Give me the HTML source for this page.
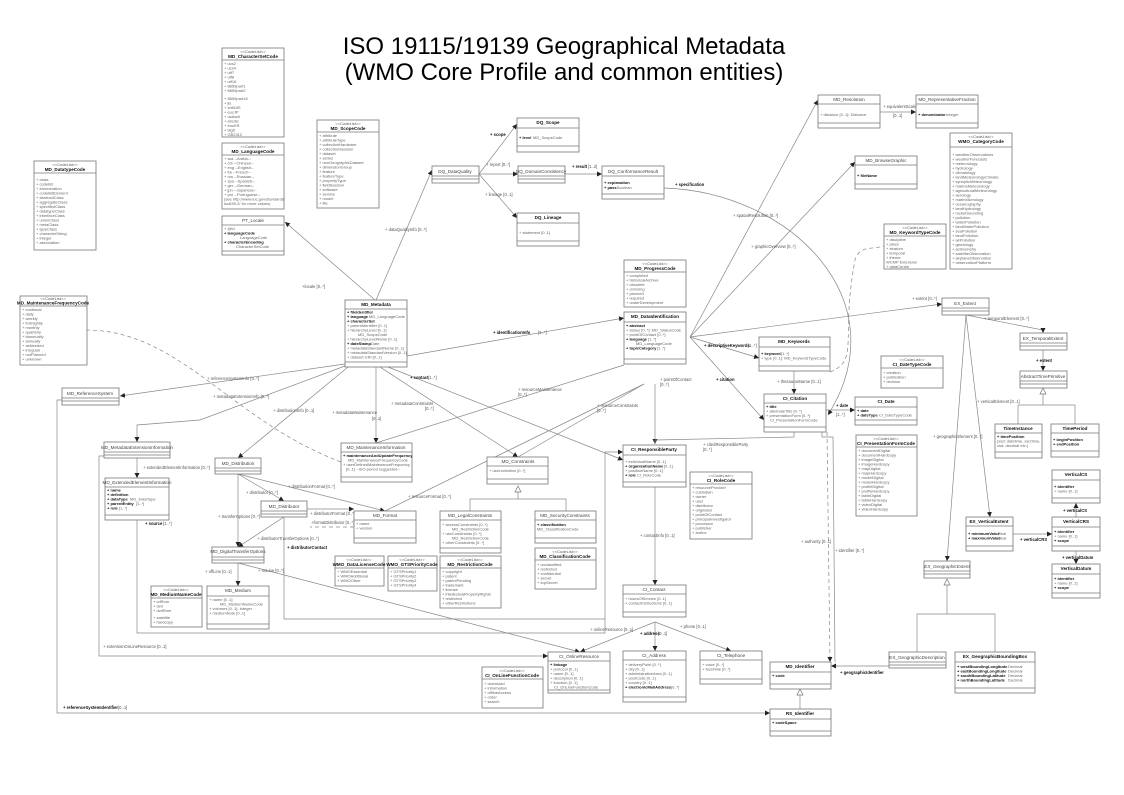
<!DOCTYPE html>
<html><head><meta charset="utf-8"><style>
html,body{margin:0;padding:0;background:#fff;}
svg{display:block;font-family:"Liberation Sans",sans-serif;}
.b rect{fill:#fff;stroke:#777;stroke-width:0.8}
.b line{stroke:#777;stroke-width:0.7}
.n{font-size:4.6px;text-anchor:middle;fill:#444}
.nb{font-size:4.6px;text-anchor:middle;font-weight:bold;fill:#111}
.s{font-size:4px;text-anchor:middle;fill:#555}
.a{font-size:4px;fill:#666}
.ab{font-size:4px;fill:#111;font-weight:bold}
.c{stroke:#888;stroke-width:0.7;fill:none}
.d{stroke:#888;stroke-width:0.7;fill:none;stroke-dasharray:4 3}
.l{font-size:4.2px;fill:#555}
.lb{font-size:4.2px;fill:#111;font-weight:bold}
</style></head><body>
<svg width="1124" height="795" viewBox="0 0 1124 795" xmlns="http://www.w3.org/2000/svg">
<defs>
<marker id="ar" markerWidth="6" markerHeight="6" refX="5" refY="3" orient="auto" markerUnits="userSpaceOnUse"><path d="M0,0.5 L5,3 L0,5.5 z" fill="#222"/></marker>
</defs>
<text x="564" y="54" font-size="24" text-anchor="middle" fill="#000">ISO 19115/19139 Geographical Metadata</text>
<text x="564" y="80" font-size="24" text-anchor="middle" fill="#000">(WMO Core Profile and common entities)</text>

<!-- CONNECTORS -->
<g>
<path class="c" d="M375,300 L285,222" marker-end="url(#ar)"/><text class="l" x="302" y="288">+locale [0..*]</text>
<path class="c" d="M376,300 L432,170" marker-end="url(#ar)"/><text class="l" x="385" y="231">+ dataQualityInfo [0..*]</text>
<path class="c" d="M479,174 L517,124" marker-end="url(#ar)"/><text class="lb" x="490" y="136">+ scope</text>
<path class="c" d="M479,174 L518,174" marker-end="url(#ar)"/><text class="l" x="486" y="166">+ report [0..*]</text>
<path class="c" d="M479,174 L517,218" marker-end="url(#ar)"/><text class="l" x="485" y="196">+ lineage [0..1]</text>
<path class="c" d="M565,174 L602,174" marker-end="url(#ar)"/><text class="lb" x="572" y="168">+ result</text><text class="l" x="588" y="168">[1..2]</text>
<path class="c" d="M664,188 C790,192 900,300 828,415" marker-end="url(#ar)"/><text class="lb" x="675" y="186">+ specification</text>
<path class="c" d="M407,356 L624,318" marker-end="url(#ar)"/><text class="lb" x="493" y="334">+ identificationInfo</text><text class="l" x="538" y="334">[1..*]</text>
<path class="c" d="M345,364 L120,396" marker-end="url(#ar)"/><text class="l" x="207" y="380">+ referenceSystemInfo [0..*]</text>
<path class="c" d="M345,366 L200,420 L137,425 L137,442" marker-end="url(#ar)"/><text class="l" x="213" y="398">+ metadataExtensionInfo [0..*]</text>
<path class="c" d="M348,367 L238,458" marker-end="url(#ar)"/><text class="l" x="273" y="412">+ distributionInfo [0..1]</text>
<path class="c" d="M376,367 L376,443" marker-end="url(#ar)"/><text class="l" x="332" y="414">+ metadataMaintenance</text><text class="l" x="372" y="420">[0..1]</text>
<path class="c" d="M380,367 L518,457" marker-end="url(#ar)"/><text class="l" x="391" y="405">+ metadataConstraints</text><text class="l" x="425" y="410">[0..*]</text>
<path class="c" d="M388,367 L623,460" marker-end="url(#ar)"/><text class="lb" x="410" y="379">+ contact</text><text class="l" x="428" y="379">[1..*]</text>
<path class="c" d="M624,365 L376,443"/><text class="l" x="518" y="391">+ resourceMaintenance</text><text class="l" x="518" y="396">[0..*]</text>
<path class="c" d="M644,384 L518,457"/><text class="l" x="597" y="407">+ resourceConstraints</text><text class="l" x="597" y="412">[0..*]</text>
<path class="c" d="M644,384 L385,511"/><text class="l" x="408" y="498">+ resourceFormat [0..*]</text>
<path class="c" d="M655,384 L655,444" marker-end="url(#ar)"/><text class="l" x="660" y="381">+ pointOfContact</text><text class="l" x="660" y="386">[0..*]</text>
<path class="c" d="M690,337 L818,100" marker-end="url(#ar)"/><text class="l" x="733" y="217">+ spatialResolution [0..*]</text>
<path class="c" d="M690,337 L855,162" marker-end="url(#ar)"/><text class="l" x="751" y="248">+ graphicOverview [0..*]</text>
<path class="c" d="M690,337 L942,304" marker-end="url(#ar)"/><text class="l" x="912" y="300">+ extent [0..*]</text>
<path class="c" d="M690,337 L759,358" marker-end="url(#ar)"/><text class="lb" x="704" y="347">+ descriptiveKeywords</text><text class="l" x="748" y="347">[1..*]</text>
<path class="c" d="M690,337 L764,420" marker-end="url(#ar)"/><text class="lb" x="716" y="381">+ citation</text>
<path class="c" d="M794,371 L794,394" marker-end="url(#ar)"/><text class="l" x="777" y="383">+ thesaurusName [0..1]</text>
<path class="d" d="M830,372 C860,360 840,340 855,260 C860,245 870,250 884,246"/>
<path class="c" d="M880,112 L916,112" marker-end="url(#ar)"/><text class="l" x="883" y="108">+ equivalentScale</text><text class="l" x="893" y="117">[0..1]</text>
<path class="c" d="M826,410 L855,410" marker-end="url(#ar)"/><text class="lb" x="836" y="407">+ date</text><text class="l" x="836" y="416">[1..*]</text>
<path class="c" d="M794,432 L794,437 L655,440 L655,444"/><text class="l" x="703" y="446">+ citedResponsibleParty</text><text class="l" x="703" y="451">[0..*]</text>
<path class="c" d="M655,487 L655,585" marker-end="url(#ar)"/><text class="l" x="640" y="537">+ contactInfo [0..1]</text>
<path class="c" d="M655,622 L655,651" marker-end="url(#ar)"/><text class="lb" x="640" y="635">+ address</text><text class="l" x="658" y="635">[0..1]</text>
<path class="c" d="M655,622 L731,651" marker-end="url(#ar)"/><text class="l" x="680" y="628">+ phone [0..1]</text>
<path class="c" d="M655,622 L580,652" marker-end="url(#ar)"/><text class="l" x="590" y="631">+ onlineResource [0..1]</text>
<path class="d" d="M827,432 L830,662" marker-end="url(#ar)"/><text class="l" x="801" y="543">+ authority [0..1]</text>
<path class="c" d="M822,432 L822,437 L833,437 L835,662"/><text class="l" x="835" y="552">+ identifier [0..*]</text>
<path class="c" d="M889,666 L831,666" marker-end="url(#ar)"/><text class="lb" x="840" y="674">+ geographicIdentifier</text>
<path class="c" d="M800,709 L800,693"/><path d="M800,689 L797,695 L803,695 z" fill="#fff" stroke="#777" stroke-width="0.7"/>
<path class="c" d="M966,315 L1043,330 L1043,333" marker-end="url(#ar)"/><text class="l" x="984" y="320">+ temporalElement [0..*]</text>
<path class="c" d="M1043,350 L1043,371" marker-end="url(#ar)"/><text class="lb" x="1036" y="362">+ extent</text>
<path class="c" d="M1043,392 L1043,405 L1018,405 L1018,424 M1043,405 L1075,405 L1075,424"/><path d="M1043,388 L1040,394 L1046,394 z" fill="#fff" stroke="#777" stroke-width="0.7"/>
<path class="c" d="M966,315 L990,517" marker-end="url(#ar)"/><text class="l" x="977" y="403">+ verticalElement [0..1]</text>
<path class="c" d="M966,315 L947,561" marker-end="url(#ar)"/><text class="l" x="933" y="438">+ geographicElement [0..*]</text>
<path class="c" d="M1013,534 L1052,534" marker-end="url(#ar)"/><text class="lb" x="1020" y="541">+ verticalCRS</text>
<path class="c" d="M1076,517 L1076,503" marker-end="url(#ar)"/><text class="lb" x="1063" y="512">+ verticalCS</text>
<path class="c" d="M1076,551 L1076,564" marker-end="url(#ar)"/><text class="lb" x="1062" y="559">+ verticalDatum</text>
<path class="c" d="M947,583 L947,614 L917,614 L917,652 M947,614 L995,614 L995,652"/><path d="M947,579 L944,585 L950,585 z" fill="#fff" stroke="#777" stroke-width="0.7"/>
<path class="c" d="M238,474 L238,547" marker-end="url(#ar)"/><text class="l" x="218" y="518">+ transferOptions [0..*]</text>
<path class="c" d="M238,474 L284,501" marker-end="url(#ar)"/><text class="l" x="246" y="494">+ distributor [0..*]</text>
<path class="c" d="M238,474 L385,511" marker-end="url(#ar)"/><text class="l" x="288" y="488">+ distributionFormat [0..*]</text>
<path class="c" d="M307,509 L354,509" marker-end="url(#ar)"/><text class="l" x="310" y="515">+ distributorFormat [0..*]</text>
<path class="d" d="M354,527 L310,527"/><text class="l" x="311" y="524">+formatDistributor [0..*]</text>
<path class="c" d="M284,517 L238,547" marker-end="url(#ar)"/><text class="l" x="257" y="540">+ distributorTransferOptions [0..*]</text>
<path class="c" d="M284,517 L284,619 L605,619"/><text class="lb" x="287" y="549">+ distributorContact</text>
<path class="c" d="M238,563 L238,586" marker-end="url(#ar)"/><text class="l" x="205" y="573">+ offLine [0..1]</text>
<path class="c" d="M238,563 L580,652" marker-end="url(#ar)"/><text class="l" x="258" y="572">+ onLine [0..*]</text>
<path class="c" d="M137,520 L137,633 L605,633 L605,452 L623,452" marker-end="url(#ar)"/><text class="lb" x="145" y="525">+ source</text><text class="l" x="163" y="525">[1..*]</text>
<path class="c" d="M137,458 L137,478" marker-end="url(#ar)"/><text class="l" x="143" y="469">+ extendedElementInformation [0..*]</text>
<path class="c" d="M104,456 L99,456 L99,656 L548,656" marker-end="url(#ar)"/><text class="l" x="103" y="648">+ extensionOnLineResource [0..1]</text>
<path class="c" d="M62,400 L57,400 L57,713 L770,713" marker-end="url(#ar)"/><text class="lb" x="63" y="709">+ referenceSystemIdentifier</text><text class="l" x="118" y="709">[0..1]</text>
<path class="c" d="M470,511 L470,499 L518,499 L566,499 L566,511 M518,499 L518,490"/><path d="M518,486 L515,492 L521,492 z" fill="#fff" stroke="#777" stroke-width="0.7"/>
<path class="d" d="M86,330 C180,330 230,420 341,462"/>
</g>

<!-- BOXES -->
<g class="b">
<rect x="222" y="48" width="62" height="89"/><text class="s" x="253" y="53">&lt;&lt;CodeList&gt;&gt;</text><text class="nb" x="253" y="58">MD_CharacterSetCode</text><line x1="222" y1="60" x2="284" y2="60"/>
<text class="a" x="224" y="65">+ ucs2</text><text class="a" x="224" y="69.5">+ ucs4</text><text class="a" x="224" y="74">+ utf7</text><text class="a" x="224" y="78.5">+ utf8</text><text class="a" x="224" y="83">+ utf16</text><text class="a" x="224" y="87.5">+ 8859part1</text><text class="a" x="224" y="92">+ 8859part2</text><text class="a" x="224" y="100">+ 8859part16</text><text class="a" x="224" y="104.5">+ jis</text><text class="a" x="224" y="109">+ shiftJIS</text><text class="a" x="224" y="113.5">+ eucJP</text><text class="a" x="224" y="118">+ usAscii</text><text class="a" x="224" y="122.5">+ ebcdic</text><text class="a" x="224" y="127">+ eucKR</text><text class="a" x="224" y="131.5">+ big5</text><text class="a" x="224" y="136">+ GB2312</text>

<rect x="222" y="143" width="62" height="66"/><text class="s" x="253" y="148">&lt;&lt;CodeList&gt;&gt;</text><text class="nb" x="253" y="153">MD_LanguageCode</text><line x1="222" y1="155" x2="284" y2="155"/>
<text class="a" x="224" y="160">+ ara --Arabic--</text><text class="a" x="224" y="164.5">+ chi --Chinese--</text><text class="a" x="224" y="169">+ eng --English--</text><text class="a" x="224" y="173.5">+ fre --French--</text><text class="a" x="224" y="178">+ rus --Russian--</text><text class="a" x="224" y="182.5">+ spa --Spanish--</text><text class="a" x="224" y="187">+ ger --German--</text><text class="a" x="224" y="191.5">+ jpn --Japanese--</text><text class="a" x="224" y="196">+ por --Portuguese--</text><text class="a" x="224" y="200.5">(see http://www.loc.gov/standards/</text><text class="a" x="224" y="205">iso639-2/ for more values)</text>

<rect x="222" y="216" width="62" height="39"/><text class="n" x="253" y="222">PT_Locale</text><line x1="222" y1="225" x2="284" y2="225"/>
<text class="a" x="224" y="230">+ @id</text><text class="ab" x="224" y="234.5">+ languageCode</text><text class="a" x="240" y="239">LanguageCode</text><text class="ab" x="224" y="243.5">+ characterEncoding</text><text class="a" x="236" y="248">CharacterSetCode</text><line x1="222" y1="251" x2="284" y2="251"/>

<rect x="317" y="120" width="62" height="88"/><text class="s" x="348" y="125">&lt;&lt;CodeList&gt;&gt;</text><text class="nb" x="348" y="130">MD_ScopeCode</text><line x1="317" y1="132" x2="379" y2="132"/>
<text class="a" x="319" y="137">+ attribute</text><text class="a" x="319" y="141.5">+ attributeType</text><text class="a" x="319" y="146">+ collectionHardware</text><text class="a" x="319" y="150.5">+ collectionSession</text><text class="a" x="319" y="155">+ dataset</text><text class="a" x="319" y="159.5">+ series</text><text class="a" x="319" y="164">+ nonGeographicDataset</text><text class="a" x="319" y="168.5">+ dimensionGroup</text><text class="a" x="319" y="173">+ feature</text><text class="a" x="319" y="177.5">+ featureType</text><text class="a" x="319" y="182">+ propertyType</text><text class="a" x="319" y="186.5">+ fieldSession</text><text class="a" x="319" y="191">+ software</text><text class="a" x="319" y="195.5">+ service</text><text class="a" x="319" y="200">+ model</text><text class="a" x="319" y="204.5">+ tile</text>

<rect x="34" y="161" width="62" height="89"/><text class="s" x="65" y="166">&lt;&lt;CodeList&gt;&gt;</text><text class="nb" x="65" y="171">MD_DatatypeCode</text><line x1="34" y1="173" x2="96" y2="173"/>
<text class="a" x="36" y="181">+ class</text><text class="a" x="36" y="185.5">+ codelist</text><text class="a" x="36" y="190">+ enumeration</text><text class="a" x="36" y="194.5">+ codelistElement</text><text class="a" x="36" y="199">+ abstractClass</text><text class="a" x="36" y="203.5">+ aggregateClass</text><text class="a" x="36" y="208">+ specifiedClass</text><text class="a" x="36" y="212.5">+ datatypeClass</text><text class="a" x="36" y="217">+ interfaceClass</text><text class="a" x="36" y="221.5">+ unionClass</text><text class="a" x="36" y="226">+ metaClass</text><text class="a" x="36" y="230.5">+ typeClass</text><text class="a" x="36" y="235">+ characterString</text><text class="a" x="36" y="239.5">+ integer</text><text class="a" x="36" y="244">+ association</text>

<rect x="20" y="296" width="67" height="69"/><text class="s" x="53" y="300">&lt;&lt;CodeList&gt;&gt;</text><text class="nb" x="53" y="304.5">MD_MaintenanceFrequencyCode</text><line x1="20" y1="306" x2="87" y2="306"/>
<text class="a" x="22" y="311">+ continual</text><text class="a" x="22" y="315.5">+ daily</text><text class="a" x="22" y="320">+ weekly</text><text class="a" x="22" y="324.5">+ fortnightly</text><text class="a" x="22" y="329">+ monthly</text><text class="a" x="22" y="333.5">+ quarterly</text><text class="a" x="22" y="338">+ biannually</text><text class="a" x="22" y="342.5">+ annually</text><text class="a" x="22" y="347">+ asNeeded</text><text class="a" x="22" y="351.5">+ irregular</text><text class="a" x="22" y="356">+ notPlanned</text><text class="a" x="22" y="360.5">+ unknown</text>

<rect x="62" y="388" width="57" height="17"/><text class="n" x="90" y="395">MD_ReferenceSystem</text><line x1="62" y1="398" x2="119" y2="398"/><line x1="62" y1="401" x2="119" y2="401"/>

<rect x="345" y="300" width="62" height="67"/><text class="nb" x="376" y="306">MD_Metadata</text><line x1="345" y1="309" x2="407" y2="309"/>
<text class="ab" x="347" y="313.5">+ fileIdentifier</text><text class="ab" x="347" y="318">+ language</text><text class="a" x="369" y="318">MD_LanguageCode</text><text class="ab" x="347" y="322.5">+ characterSet</text><text class="a" x="347" y="327">+ parentIdentifier [0..1]</text><text class="a" x="347" y="331.5">+ hierarchyLevel [0..1]</text><text class="a" x="358" y="336">MD_ScopeCode</text><text class="a" x="347" y="340.5">+ hierarchyLevelName [0..1]</text><text class="ab" x="347" y="345">+ dateStamp</text><text class="a" x="371" y="345">Date</text><text class="a" x="347" y="349.5">+ metadataStandardName [0..1]</text><text class="a" x="347" y="354">+ metadataStandardVersion [0..1]</text><text class="a" x="347" y="358.5">+ dataset URI [0..1]</text><line x1="345" y1="362" x2="407" y2="362"/>

<rect x="432" y="166" width="47" height="17"/><text class="n" x="455" y="173">DQ_DataQuality</text><line x1="432" y1="176" x2="479" y2="176"/><line x1="432" y1="179" x2="479" y2="179"/>
<rect x="517" y="118" width="62" height="34"/><text class="nb" x="548" y="124">DQ_Scope</text><line x1="517" y1="128" x2="579" y2="128"/><text class="ab" x="519" y="139">+ level</text><text class="a" x="533" y="139">MD_ScopeCode</text><line x1="517" y1="146" x2="579" y2="146"/>
<rect x="518" y="166" width="47" height="17"/><text class="n" x="541" y="173">DQ_DomainConsistency</text><line x1="518" y1="176" x2="565" y2="176"/><line x1="518" y1="179" x2="565" y2="179"/>
<rect x="602" y="166" width="62" height="33"/><text class="n" x="633" y="173">DQ_ConformanceResult</text><line x1="602" y1="176" x2="664" y2="176"/><text class="ab" x="604" y="184">+ explanation</text><text class="ab" x="604" y="189">+ pass</text><text class="a" x="617" y="189">Boolean</text><line x1="602" y1="194" x2="664" y2="194"/>
<rect x="517" y="213" width="62" height="33"/><text class="nb" x="548" y="219">DQ_Lineage</text><line x1="517" y1="223" x2="579" y2="223"/><text class="a" x="519" y="234">+ statement [0..1]</text><line x1="517" y1="241" x2="579" y2="241"/>

<rect x="818" y="95" width="62" height="33"/><text class="n" x="849" y="101">MD_Resolution</text><line x1="818" y1="104" x2="880" y2="104"/><text class="a" x="820" y="116">+ distance [0..1]: Distance</text><line x1="818" y1="123" x2="880" y2="123"/>
<rect x="916" y="95" width="62" height="33"/><text class="n" x="947" y="101">MD_RepresentativeFraction</text><line x1="916" y1="104" x2="978" y2="104"/><text class="ab" x="918" y="116">+ denominator</text><text class="a" x="946" y="116">Integer</text><line x1="916" y1="123" x2="978" y2="123"/>

<rect x="950" y="133" width="62" height="136"/><text class="s" x="981" y="138">&lt;&lt;CodeList&gt;&gt;</text><text class="nb" x="981" y="143">WMO_CategoryCode</text><line x1="950" y1="147" x2="1012" y2="147"/>
<text class="a" x="952" y="156">+ weatherObservations</text><text class="a" x="952" y="160.5">+ weatherForecasts</text><text class="a" x="952" y="165">+ meteorology</text><text class="a" x="952" y="169.5">+ hydrology</text><text class="a" x="952" y="174">+ climatology</text><text class="a" x="952" y="178.5">+ landMeteorologyClimate</text><text class="a" x="952" y="183">+ synopticMeteorology</text><text class="a" x="952" y="187.5">+ marineMeteorology</text><text class="a" x="952" y="192">+ agriculturalMeteorology</text><text class="a" x="952" y="196.5">+ aerology</text><text class="a" x="952" y="201">+ marineAerology</text><text class="a" x="952" y="205.5">+ oceanography</text><text class="a" x="952" y="210">+ landHydrology</text><text class="a" x="952" y="214.5">+ rocketSounding</text><text class="a" x="952" y="219">+ pollution</text><text class="a" x="952" y="223.5">+ waterPollution</text><text class="a" x="952" y="228">+ landWaterPollution</text><text class="a" x="952" y="232.5">+ seaPollution</text><text class="a" x="952" y="237">+ landPollution</text><text class="a" x="952" y="241.5">+ airPollution</text><text class="a" x="952" y="246">+ glaciology</text><text class="a" x="952" y="250.5">+ actinometry</text><text class="a" x="952" y="255">+ satelliteObservation</text><text class="a" x="952" y="259.5">+ airplaneObservation</text><text class="a" x="952" y="264">+ observationPlatform</text>

<rect x="855" y="156" width="62" height="33"/><text class="n" x="886" y="162">MD_BrowseGraphic</text><line x1="855" y1="165" x2="917" y2="165"/><text class="ab" x="857" y="177">+ fileName</text><line x1="855" y1="184" x2="917" y2="184"/>

<rect x="884" y="224" width="62" height="45"/><text class="s" x="915" y="229">&lt;&lt;CodeList&gt;&gt;</text><text class="nb" x="915" y="234">MD_KeywordTypeCode</text><line x1="884" y1="236" x2="946" y2="236"/>
<text class="a" x="886" y="241">+ discipline</text><text class="a" x="886" y="245.5">+ place</text><text class="a" x="886" y="250">+ stratum</text><text class="a" x="886" y="254.5">+ temporal</text><text class="a" x="886" y="259">+ theme</text><text class="a" x="886" y="263.5">WCMP Extension</text><text class="a" x="886" y="268">+ dataCentre</text>

<rect x="624" y="260" width="62" height="47"/><text class="s" x="655" y="265">&lt;&lt;CodeList&gt;&gt;</text><text class="nb" x="655" y="270">MD_ProgressCode</text><line x1="624" y1="272" x2="686" y2="272"/>
<text class="a" x="626" y="277">+ completed</text><text class="a" x="626" y="281.5">+ historicalArchive</text><text class="a" x="626" y="286">+ obsolete</text><text class="a" x="626" y="290.5">+ onGoing</text><text class="a" x="626" y="295">+ planned</text><text class="a" x="626" y="299.5">+ required</text><text class="a" x="626" y="304">+ underDevelopment</text>

<rect x="624" y="312" width="62" height="52"/><text class="nb" x="655" y="318">MD_DataIdentification</text><line x1="624" y1="322" x2="686" y2="322"/>
<text class="ab" x="626" y="327">+ abstract</text><text class="a" x="626" y="331.5">+ status [0..*]: MD_StatusCode</text><text class="a" x="626" y="336">+ pointOfContact [0..*]</text><text class="ab" x="626" y="340.5">+ language</text><text class="a" x="648" y="340.5">[1..*]</text><text class="a" x="636" y="345">MD_LanguageCode</text><text class="ab" x="626" y="349.5">+ topicCategory</text><text class="a" x="657" y="349.5">[1..*]</text><line x1="624" y1="359" x2="686" y2="359"/>

<rect x="942" y="298" width="47" height="17"/><text class="n" x="965" y="305">EX_Extent</text><line x1="942" y1="308" x2="989" y2="308"/><line x1="942" y1="311" x2="989" y2="311"/>
<rect x="1020" y="333" width="47" height="17"/><text class="n" x="1043" y="340">EX_TemporalExtent</text><line x1="1020" y1="343" x2="1067" y2="343"/><line x1="1020" y1="346" x2="1067" y2="346"/>
<rect x="1020" y="371" width="47" height="17"/><text class="n" x="1043" y="378">AbstractTimePrimitive</text><line x1="1020" y1="381" x2="1067" y2="381"/><line x1="1020" y1="384" x2="1067" y2="384"/>
<rect x="995" y="424" width="47" height="34"/><text class="nb" x="1018" y="430">TimeInstance</text><line x1="995" y1="433" x2="1042" y2="433"/><text class="ab" x="997" y="438">+ timePosition</text><text class="a" x="997" y="442.5">(xsd: datetime, xsd:time,</text><text class="a" x="997" y="447">xsd: decimal etc.)</text><line x1="995" y1="452" x2="1042" y2="452"/>
<rect x="1051" y="424" width="48" height="33"/><text class="nb" x="1075" y="430">TimePeriod</text><line x1="1051" y1="433" x2="1099" y2="433"/><text class="ab" x="1053" y="441">+ beginPosition</text><text class="ab" x="1053" y="445.5">+ endPosition</text><line x1="1051" y1="451" x2="1099" y2="451"/>

<rect x="759" y="337" width="71" height="34"/><text class="nb" x="794" y="343">MD_Keywords</text><line x1="759" y1="347" x2="830" y2="347"/><text class="ab" x="761" y="355">+ keyword</text><text class="a" x="781" y="355">[1..*]</text><text class="a" x="761" y="359.5">+ type [0..1]: MD_KeywordTypeCode</text><line x1="759" y1="366" x2="830" y2="366"/>
<rect x="881" y="356" width="62" height="32"/><text class="s" x="912" y="361">&lt;&lt;CodeList&gt;&gt;</text><text class="nb" x="912" y="366">CI_DateTypeCode</text><line x1="881" y1="368" x2="943" y2="368"/><text class="a" x="883" y="374">+ creation</text><text class="a" x="883" y="378.5">+ publication</text><text class="a" x="883" y="383">+ revision</text>
<rect x="764" y="394" width="62" height="38"/><text class="nb" x="795" y="400">CI_Citation</text><line x1="764" y1="403" x2="826" y2="403"/><text class="ab" x="766" y="408">+ title</text><text class="a" x="766" y="412.5">+ alternateTitle [0..*]</text><text class="a" x="766" y="417">+ presentationForm [0..*]</text><text class="a" x="770" y="421.5">CI_PresentationFormCode</text><line x1="764" y1="427" x2="826" y2="427"/>
<rect x="855" y="397" width="62" height="28"/><text class="nb" x="886" y="403">CI_Date</text><line x1="855" y1="407" x2="917" y2="407"/><text class="ab" x="857" y="412">+ date</text><text class="ab" x="857" y="416.5">+ dateType</text><text class="a" x="879" y="416.5">CI_DateTypeCode</text><line x1="855" y1="420" x2="917" y2="420"/>
<rect x="856" y="435" width="61" height="81"/><text class="s" x="886" y="440">&lt;&lt;CodeList&gt;&gt;</text><text class="nb" x="886" y="445">CI_PresentationFormCode</text><line x1="856" y1="447" x2="917" y2="447"/>
<text class="a" x="858" y="452">+ documentDigital</text><text class="a" x="858" y="456.5">+ documentHardcopy</text><text class="a" x="858" y="461">+ imageDigital</text><text class="a" x="858" y="465.5">+ imageHardcopy</text><text class="a" x="858" y="470">+ mapDigital</text><text class="a" x="858" y="474.5">+ mapHardcopy</text><text class="a" x="858" y="479">+ modelDigital</text><text class="a" x="858" y="483.5">+ modelHardcopy</text><text class="a" x="858" y="488">+ profileDigital</text><text class="a" x="858" y="492.5">+ profileHardcopy</text><text class="a" x="858" y="497">+ tableDigital</text><text class="a" x="858" y="501.5">+ tableHardcopy</text><text class="a" x="858" y="506">+ videoDigital</text><text class="a" x="858" y="510.5">+ videoHardcopy</text>

<rect x="966" y="517" width="47" height="34"/><text class="nb" x="989" y="523">EX_VerticalExtent</text><line x1="966" y1="526" x2="1013" y2="526"/><text class="ab" x="968" y="535">+ minimumValue</text><text class="a" x="998" y="535">Real</text><text class="ab" x="968" y="539.5">+ maximumValue</text><text class="a" x="998" y="539.5">Real</text><line x1="966" y1="546" x2="1013" y2="546"/>
<rect x="1052" y="470" width="48" height="33"/><text class="nb" x="1076" y="476">VerticalCS</text><line x1="1052" y1="480" x2="1100" y2="480"/><text class="ab" x="1054" y="488">+ identifier</text><text class="a" x="1054" y="492.5">+ name [0..1]</text><line x1="1052" y1="498" x2="1100" y2="498"/>
<rect x="1052" y="517" width="48" height="34"/><text class="nb" x="1076" y="523">VerticalCRS</text><line x1="1052" y1="527" x2="1100" y2="527"/><text class="ab" x="1054" y="533">+ identifier</text><text class="a" x="1054" y="537.5">+ name [0..1]</text><text class="ab" x="1054" y="542">+ scope</text><line x1="1052" y1="546" x2="1100" y2="546"/>
<rect x="1052" y="564" width="48" height="34"/><text class="nb" x="1076" y="570">VerticalDatum</text><line x1="1052" y1="574" x2="1100" y2="574"/><text class="ab" x="1054" y="580">+ identifier</text><text class="a" x="1054" y="584.5">+ name [0..1]</text><text class="ab" x="1054" y="589">+ scope</text><line x1="1052" y1="593" x2="1100" y2="593"/>
<rect x="924" y="561" width="46" height="17"/><text class="n" x="947" y="568" font-style="italic">EX_GeographicExtent</text><line x1="924" y1="571" x2="970" y2="571"/><line x1="924" y1="574" x2="970" y2="574"/>
<rect x="889" y="652" width="57" height="16"/><text class="n" x="917" y="659">EX_GeographicDescription</text><line x1="889" y1="662" x2="946" y2="662"/><line x1="889" y1="665" x2="946" y2="665"/>
<rect x="955" y="652" width="80" height="41"/><text class="nb" x="995" y="658">EX_GeographicBoundingBox</text><line x1="955" y1="662" x2="1035" y2="662"/><text class="ab" x="957" y="668">+ westBoundingLongitude</text><text class="a" x="1008" y="668">Decimal</text><text class="ab" x="957" y="672.5">+ eastBoundingLongitude</text><text class="a" x="1008" y="672.5">Decimal</text><text class="ab" x="957" y="677">+ southBoundingLatitude</text><text class="a" x="1008" y="677">Decimal</text><text class="ab" x="957" y="681.5">+ northBoundingLatitude</text><text class="a" x="1008" y="681.5">Decimal</text><line x1="955" y1="688" x2="1035" y2="688"/>

<rect x="770" y="662" width="61" height="27"/><text class="nb" x="800" y="668">MD_Identifier</text><line x1="770" y1="672" x2="831" y2="672"/><text class="ab" x="772" y="677">+ code</text><line x1="770" y1="684" x2="831" y2="684"/>
<rect x="770" y="709" width="61" height="27"/><text class="nb" x="800" y="715">RS_Identifier</text><line x1="770" y1="719" x2="831" y2="719"/><text class="ab" x="772" y="724">+ codeSpace</text><line x1="770" y1="731" x2="831" y2="731"/>

<rect x="623" y="445" width="63" height="42"/><text class="nb" x="654" y="451">CI_ResponsibleParty</text><line x1="623" y1="455" x2="686" y2="455"/><text class="a" x="625" y="463">+ individualName [0..1]</text><text class="ab" x="625" y="467.5">+ organisationName</text><text class="a" x="664" y="467.5">[0..1]</text><text class="a" x="625" y="472">+ positionName [0..1]</text><text class="ab" x="625" y="476.5">+ role</text><text class="a" x="637" y="476.5">CI_RoleCode</text><line x1="623" y1="482" x2="686" y2="482"/>
<rect x="690" y="472" width="62" height="67"/><text class="s" x="721" y="477">&lt;&lt;CodeList&gt;&gt;</text><text class="nb" x="721" y="482">CI_RoleCode</text><line x1="690" y1="484" x2="752" y2="484"/>
<text class="a" x="692" y="489">+ resourceProvider</text><text class="a" x="692" y="493.5">+ custodian</text><text class="a" x="692" y="498">+ owner</text><text class="a" x="692" y="502.5">+ user</text><text class="a" x="692" y="507">+ distributor</text><text class="a" x="692" y="511.5">+ originator</text><text class="a" x="692" y="516">+ pointOfContact</text><text class="a" x="692" y="520.5">+ principalInvestigator</text><text class="a" x="692" y="525">+ processor</text><text class="a" x="692" y="529.5">+ publisher</text><text class="a" x="692" y="534">+ author</text>
<rect x="623" y="585" width="63" height="32"/><text class="n" x="654" y="591">CI_Contact</text><line x1="623" y1="594" x2="686" y2="594"/><text class="a" x="625" y="600">+ hoursOfService [0..1]</text><text class="a" x="625" y="604.5">+ contactInstructions [0..1]</text><line x1="623" y1="612" x2="686" y2="612"/>
<rect x="623" y="651" width="63" height="51"/><text class="n" x="654" y="657">CI_Address</text><line x1="623" y1="660" x2="686" y2="660"/><text class="a" x="625" y="666">+ deliveryPoint [0..*]</text><text class="a" x="625" y="670.5">+ city [0..1]</text><text class="a" x="625" y="675">+ administrativeArea [0..1]</text><text class="a" x="625" y="679.5">+ postCode [0..1]</text><text class="a" x="625" y="684">+ country [0..1]</text><text class="ab" x="625" y="688.5">+ electronicMailAddress</text><text class="a" x="671" y="688.5">[0..*]</text><line x1="623" y1="697" x2="686" y2="697"/>
<rect x="700" y="651" width="62" height="33"/><text class="n" x="731" y="657">CI_Telephone</text><line x1="700" y1="660" x2="762" y2="660"/><text class="a" x="702" y="666">+ voice [0..*]</text><text class="a" x="702" y="670.5">+ facsimile [0..*]</text><line x1="700" y1="679" x2="762" y2="679"/>

<rect x="104" y="442" width="66" height="16"/><text class="n" x="137" y="449">MD_MetadataExtensionInformation</text><line x1="104" y1="452" x2="170" y2="452"/><line x1="104" y1="455" x2="170" y2="455"/>
<rect x="105" y="478" width="64" height="42"/><text class="n" x="137" y="484">MD_ExtendedElementInformation</text><line x1="105" y1="487" x2="169" y2="487"/><text class="ab" x="107" y="491.5">+ name</text><text class="ab" x="107" y="496">+ definition</text><text class="ab" x="107" y="500.5">+ dataType</text><text class="a" x="130" y="500.5">MD_DataType</text><text class="ab" x="107" y="505">+ parentEntity</text><text class="a" x="136" y="505">[1..*]</text><text class="ab" x="107" y="509.5">+ rule</text><text class="a" x="119" y="509.5">[1..*]</text><line x1="105" y1="515" x2="169" y2="515"/>
<rect x="215" y="458" width="46" height="16"/><text class="n" x="238" y="465">MD_Distribution</text><line x1="215" y1="468" x2="261" y2="468"/><line x1="215" y1="471" x2="261" y2="471"/>
<rect x="341" y="443" width="71" height="39"/><text class="n" x="376" y="449">MD_MaintenanceInformation</text><line x1="341" y1="452" x2="412" y2="452"/><text class="ab" x="343" y="457">+ maintenanceAndUpdateFrequency</text><text class="a" x="348" y="461.5">MD_MaintenanceFrequencyCode</text><text class="a" x="343" y="466">+ userDefinedMaintenanceFrequency</text><text class="a" x="346" y="470.5">[0..1] --ISO period suggested--</text><line x1="341" y1="477" x2="412" y2="477"/>
<rect x="487" y="457" width="61" height="27"/><text class="n" x="518" y="463">MD_Constraints</text><line x1="487" y1="466" x2="548" y2="466"/><text class="a" x="489" y="472">+ useLimitation [0..*]</text><line x1="487" y1="479" x2="548" y2="479"/>
<rect x="261" y="501" width="46" height="16"/><text class="n" x="284" y="508">MD_Distributor</text><line x1="261" y1="511" x2="307" y2="511"/><line x1="261" y1="514" x2="307" y2="514"/>
<rect x="354" y="511" width="62" height="32"/><text class="n" x="385" y="517">MD_Format</text><line x1="354" y1="520" x2="416" y2="520"/><text class="a" x="356" y="525">+ name</text><text class="a" x="356" y="529.5">+ version</text><line x1="354" y1="538" x2="416" y2="538"/>
<rect x="440" y="511" width="61" height="42"/><text class="n" x="470" y="517">MD_LegalConstraints</text><line x1="440" y1="520" x2="501" y2="520"/><text class="a" x="442" y="526">+ accessConstraints [0..*]</text><text class="a" x="452" y="530.5">MD_RestrictionCode</text><text class="a" x="442" y="535">+ useConstraints [0..*]</text><text class="a" x="452" y="539.5">MD_RestrictionCode</text><text class="a" x="442" y="544">+ otherConstraints [0..*]</text><line x1="440" y1="548" x2="501" y2="548"/>
<rect x="535" y="511" width="61" height="32"/><text class="n" x="565" y="517">MD_SecurityConstraints</text><line x1="535" y1="520" x2="596" y2="520"/><text class="ab" x="537" y="526">+ classification</text><text class="a" x="537" y="530.5">MD_ClassificationCode</text><line x1="535" y1="538" x2="596" y2="538"/>
<rect x="212" y="547" width="52" height="16"/><text class="n" x="238" y="553">MD_DigitalTransferOptions</text><line x1="212" y1="557" x2="264" y2="557"/><line x1="212" y1="560" x2="264" y2="560"/>
<rect x="335" y="556" width="49" height="30"/><text class="s" x="359" y="561">&lt;&lt;CodeList&gt;&gt;</text><text class="nb" x="359" y="566">WMO_DataLicenseCode</text><line x1="335" y1="568" x2="384" y2="568"/><text class="a" x="337" y="573">+ WMOEssential</text><text class="a" x="337" y="577.5">+ WMOAdditional</text><text class="a" x="337" y="582">+ WMOOther</text>
<rect x="388" y="556" width="49" height="35"/><text class="s" x="412" y="561">&lt;&lt;CodeList&gt;&gt;</text><text class="nb" x="412" y="566">WMO_GTSPriorityCode</text><line x1="388" y1="568" x2="437" y2="568"/><text class="a" x="390" y="573">+ GTSPriority1</text><text class="a" x="390" y="577.5">+ GTSPriority2</text><text class="a" x="390" y="582">+ GTSPriority3</text><text class="a" x="390" y="586.5">+ GTSPriority4</text>
<rect x="440" y="556" width="61" height="52"/><text class="s" x="470" y="561">&lt;&lt;CodeList&gt;&gt;</text><text class="nb" x="470" y="566">MD_RestrictionCode</text><line x1="440" y1="568" x2="501" y2="568"/><text class="a" x="442" y="573">+ copyright</text><text class="a" x="442" y="577.5">+ patent</text><text class="a" x="442" y="582">+ patentPending</text><text class="a" x="442" y="586.5">+ trademark</text><text class="a" x="442" y="591">+ license</text><text class="a" x="442" y="595.5">+ intellectualPropertyRights</text><text class="a" x="442" y="600">+ restricted</text><text class="a" x="442" y="604.5">+ otherRestrictions</text>
<rect x="535" y="548" width="61" height="41"/><text class="s" x="565" y="553">&lt;&lt;CodeList&gt;&gt;</text><text class="nb" x="565" y="558">MD_ClassificationCode</text><line x1="535" y1="560" x2="596" y2="560"/><text class="a" x="537" y="566">+ unclassified</text><text class="a" x="537" y="570.5">+ restricted</text><text class="a" x="537" y="575">+ confidential</text><text class="a" x="537" y="579.5">+ secret</text><text class="a" x="537" y="584">+ topSecret</text>
<rect x="151" y="586" width="51" height="41"/><text class="s" x="176" y="591">&lt;&lt;CodeList&gt;&gt;</text><text class="nb" x="176" y="596">MD_MediumNameCode</text><line x1="151" y1="598" x2="202" y2="598"/><text class="a" x="153" y="603">+ cdRom</text><text class="a" x="153" y="607.5">+ dvd</text><text class="a" x="153" y="612">+ dvdRom</text><text class="a" x="153" y="619">+ satellite</text><text class="a" x="153" y="623.5">+ hardcopy</text>
<rect x="207" y="586" width="62" height="43"/><text class="n" x="238" y="592">MD_Medium</text><line x1="207" y1="596" x2="269" y2="596"/><text class="a" x="209" y="601">+ name [0..1]</text><text class="a" x="220" y="605.5">MD_MediumNameCode</text><text class="a" x="209" y="610">+ volumes [0..1]: Integer</text><text class="a" x="209" y="614.5">+ mediumNote [0..1]</text><line x1="207" y1="624" x2="269" y2="624"/>
<rect x="548" y="652" width="62" height="41"/><text class="n" x="579" y="658">CI_OnlineResource</text><line x1="548" y1="661" x2="610" y2="661"/><text class="ab" x="550" y="666">+ linkage</text><text class="a" x="550" y="670.5">+ protocol [0..1]</text><text class="a" x="550" y="675">+ name [0..1]</text><text class="a" x="550" y="679.5">+ description [0..1]</text><text class="a" x="550" y="684">+ function [0..1]</text><text class="a" x="554" y="688.5">CI_OnLineFunctionCode</text><line x1="548" y1="690" x2="610" y2="690"/>
<rect x="482" y="667" width="61" height="41"/><text class="s" x="512" y="672">&lt;&lt;CodeList&gt;&gt;</text><text class="nb" x="512" y="677">CI_OnLineFunctionCode</text><line x1="482" y1="679" x2="543" y2="679"/><text class="a" x="484" y="685">+ download</text><text class="a" x="484" y="689.5">+ information</text><text class="a" x="484" y="694">+ offlineAccess</text><text class="a" x="484" y="698.5">+ order</text><text class="a" x="484" y="703">+ search</text>
</g>
</svg>
</body></html>
